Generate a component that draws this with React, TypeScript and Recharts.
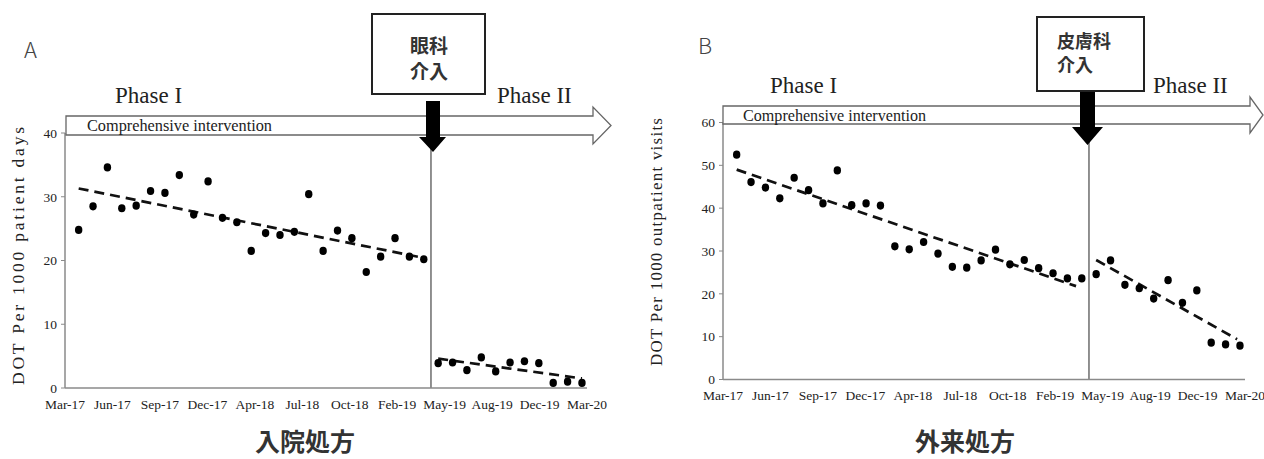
import React from 'react';
import { ComposedChart, Scatter, Line, XAxis, YAxis, ReferenceLine } from 'recharts';

// ---- Data ----
const monthTickLabels = ['Mar-17', 'Jun-17', 'Sep-17', 'Dec-17', 'Apr-18', 'Jul-18', 'Oct-18', 'Feb-19', 'May-19', 'Aug-19', 'Dec-19', 'Mar-20'];

// 36 monthly observations (index 0..35); phase I = first 25, phase II = last 11
const inpatientDOT = [
  24.8, 28.5, 34.6, 28.2, 28.6, 30.9, 30.6, 33.4, 27.2, 32.4, 26.7, 26.0, 21.5,
  24.3, 24.0, 24.5, 30.4, 21.5, 24.7, 23.5, 18.2, 20.6, 23.5, 20.6, 20.2,
  3.9, 4.0, 2.8, 4.8, 2.6, 4.0, 4.2, 3.9, 0.8, 1.0, 0.8,
];
const outpatientDOT = [
  52.5, 46.1, 44.8, 42.3, 47.1, 44.2, 41.1, 48.8, 40.7, 41.1, 40.6, 31.1, 30.4,
  32.1, 29.4, 26.3, 26.1, 27.8, 30.3, 26.9, 27.9, 26.0, 24.8, 23.6, 23.6,
  24.6, 27.8, 22.1, 21.3, 18.9, 23.2, 17.9, 20.8, 8.6, 8.2, 7.9,
];

// trend line end points: [index, value]
const inpatientTrendPhase1: [number, number][] = [[0, 31.3], [24, 20.4]];
const inpatientTrendPhase2: [number, number][] = [[25, 4.6], [35, 1.5]];
const outpatientTrendPhase1: [number, number][] = [[0, 49.0], [23.6, 21.8]];
const outpatientTrendPhase2: [number, number][] = [[25, 27.9], [34.8, 9.4]];

const interventionIndex = 24.5;
const inpatientYTicks = [0, 10, 20, 30, 40];
const outpatientYTicks = [0, 10, 20, 30, 40, 50, 60];

// ---- Helpers ----
const X_MIN = -0.95;
const X_MAX = 35.35;
const tickPositions = monthTickLabels.map((_, i) => X_MIN + (i * (X_MAX - X_MIN)) / (monthTickLabels.length - 1));

const toPoints = (vals: number[]) => vals.map((y, x) => ({ x, y }));
const toTrend = (pts: [number, number][]) => pts.map(([x, y]) => ({ x, y }));

const SERIF = '"Liberation Serif", "DejaVu Serif", serif';
const CJK = '"Noto Sans CJK JP", "Noto Sans CJK SC", sans-serif';

const Dot = (props: any) => {
  const { cx, cy } = props;
  if (cx == null || cy == null) return null;
  return <ellipse cx={cx} cy={cy} rx={3.7} ry={4.1} fill="#000" />;
};

type PanelProps = {
  values: number[];
  trend1: [number, number][];
  trend2: [number, number][];
  yMax: number;
  yTicks: number[];
  width: number;
  margin: { top: number; right: number; bottom: number; left: number };
  yWidth: number;
};

const Panel = ({ values, trend1, trend2, yMax, yTicks, width, margin, yWidth }: PanelProps) => (
  <ComposedChart width={width} height={459} margin={margin}>
    <XAxis
      type="number"
      dataKey="x"
      domain={[X_MIN, X_MAX]}
      ticks={tickPositions}
      interval={0}
      tickFormatter={(_v: number, i: number) => monthTickLabels[i]}
      tickLine={false}
      tickSize={0}
      tickMargin={11}
      height={30}
      axisLine={{ stroke: '#8a8a8a', strokeWidth: 1.5 }}
      tick={{ fontFamily: SERIF, fontSize: 13.5, fill: '#222', style: { fontFamily: SERIF } }}
      allowDataOverflow
    />
    <YAxis
      type="number"
      dataKey="y"
      domain={[0, yMax]}
      ticks={yTicks}
      interval={0}
      width={yWidth}
      tickSize={4}
      tickMargin={4}
      axisLine={{ stroke: '#8a8a8a', strokeWidth: 1.5 }}
      tickLine={{ stroke: '#8a8a8a' }}
      tick={{ fontFamily: SERIF, fontSize: 13.5, fill: '#222', style: { fontFamily: SERIF } }}
      allowDataOverflow
    />
    <ReferenceLine x={interventionIndex} stroke="#555" strokeWidth={1.3} ifOverflow="visible" />
    <Line
      data={toTrend(trend1)}
      dataKey="y"
      type="linear"
      stroke="#111"
      strokeWidth={2.7}
      strokeDasharray="10 6"
      dot={false}
      activeDot={false}
      isAnimationActive={false}
    />
    <Line
      data={toTrend(trend2)}
      dataKey="y"
      type="linear"
      stroke="#111"
      strokeWidth={2.7}
      strokeDasharray="10 6"
      dot={false}
      activeDot={false}
      isAnimationActive={false}
    />
    <Scatter data={toPoints(values)} dataKey="y" shape={Dot} isAnimationActive={false} />
  </ComposedChart>
);

const serifStyle = { fontFamily: SERIF };
const cjkStyle = { fontFamily: CJK };

const Overlay = () => (
  <svg width={1264} height={459} style={{ position: 'absolute', left: 0, top: 0, pointerEvents: 'none' }}>
    {/* ---- Panel A ---- */}
    <text x={24} y={58} style={cjkStyle} fontWeight={300} fontSize={22} fill="#444">A</text>
    <polygon
      points="66,116 593,116 593,107 611,125.5 593,144 593,135 66,135"
      fill="#fff"
      stroke="#666"
      strokeWidth={1.3}
    />
    <text x={87} y={131} style={serifStyle} fontSize={16} textLength={185} lengthAdjust="spacingAndGlyphs" fill="#222">Comprehensive intervention</text>
    <text x={115} y={103} style={serifStyle} fontSize={23} fill="#222">Phase I</text>
    <text x={497} y={103} style={serifStyle} fontSize={23} fill="#222">Phase II</text>
    <rect x={372} y={14} width={113} height={80} fill="#fff" stroke="#222" strokeWidth={2} />
    <text x={429} y={53} textAnchor="middle" style={cjkStyle} fontWeight={700} fontSize={19} fill="#333">眼科</text>
    <text x={429} y={79} textAnchor="middle" style={cjkStyle} fontWeight={700} fontSize={19} fill="#333">介入</text>
    <polygon points="426,101 440,101 440,137 446,137 433,152 419,137 426,137" fill="#000" />
    <text
      x={0}
      y={0}
      transform="translate(24,256) rotate(-90)"
      textAnchor="middle"
      style={serifStyle}
      fontSize={17.5}
      textLength={258}
      lengthAdjust="spacing"
      fill="#222"
    >
      DOT Per 1000 patient days
    </text>
    <text x={305} y={451} textAnchor="middle" style={cjkStyle} fontWeight={700} fontSize={25} fill="#333">入院処方</text>

    {/* ---- Panel B ---- */}
    <text x={698} y={54} style={cjkStyle} fontWeight={300} fontSize={22} fill="#444">B</text>
    <polygon
      points="723,106 1250,106 1250,97 1263,115 1250,133 1250,124 723,124"
      fill="#fff"
      stroke="#666"
      strokeWidth={1.3}
    />
    <text x={743} y={121} style={serifStyle} fontSize={16} textLength={183} lengthAdjust="spacingAndGlyphs" fill="#222">Comprehensive intervention</text>
    <text x={770} y={93} style={serifStyle} fontSize={23} fill="#222">Phase I</text>
    <text x={1153} y={93} style={serifStyle} fontSize={23} fill="#222">Phase II</text>
    <rect x={1037} y={17} width={107} height={74} fill="#fff" stroke="#222" strokeWidth={2} />
    <text x={1057} y={48} style={cjkStyle} fontWeight={700} fontSize={18} fill="#333">皮膚科</text>
    <text x={1057} y={72} style={cjkStyle} fontWeight={700} fontSize={18} fill="#333">介入</text>
    <polygon points="1080,92 1095,92 1095,127 1103,127 1087.5,145 1072,127 1080,127" fill="#000" />
    <text
      x={0}
      y={0}
      transform="translate(662,242) rotate(-90)"
      textAnchor="middle"
      style={serifStyle}
      fontSize={17}
      textLength={248}
      lengthAdjust="spacing"
      fill="#222"
    >
      DOT Per 1000 outpatient visits
    </text>
    <text x={965} y={451} textAnchor="middle" style={cjkStyle} fontWeight={700} fontSize={25} fill="#333">外来処方</text>
  </svg>
);

export default function App() {
  return (
    <div style={{ position: 'absolute', left: 0, top: 0, width: 1264, height: 459, background: '#fff', overflow: 'hidden' }}>
      <div style={{ position: 'absolute', left: 0, top: 0 }}>
        <Panel
          values={inpatientDOT}
          trend1={inpatientTrendPhase1}
          trend2={inpatientTrendPhase2}
          yMax={40}
          yTicks={inpatientYTicks}
          width={640}
          margin={{ top: 133, right: 53, bottom: 41, left: 25 }}
          yWidth={40}
        />
      </div>
      <div style={{ position: 'absolute', left: 640, top: 0 }}>
        <Panel
          values={outpatientDOT}
          trend1={outpatientTrendPhase1}
          trend2={outpatientTrendPhase2}
          yMax={60}
          yTicks={outpatientYTicks}
          width={624}
          margin={{ top: 122.5, right: 19, bottom: 49.5, left: 43 }}
          yWidth={40}
        />
      </div>
      <Overlay />
    </div>
  );
}
